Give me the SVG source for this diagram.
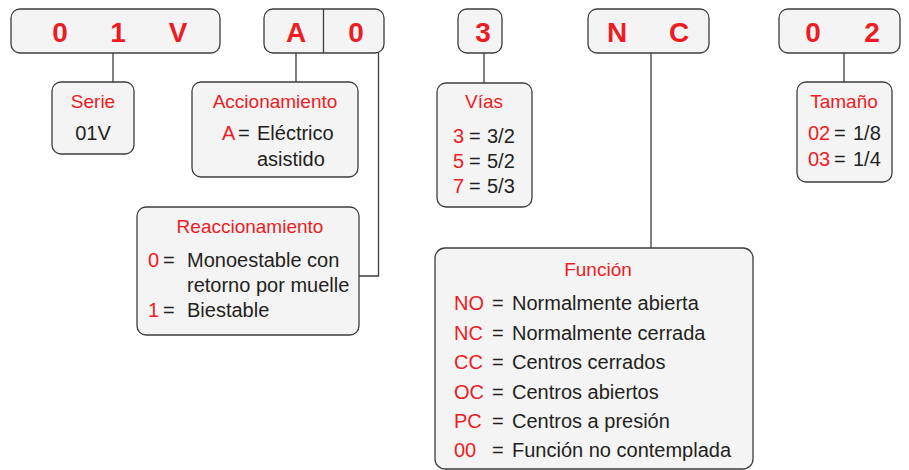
<svg xmlns="http://www.w3.org/2000/svg" width="909" height="470" viewBox="0 0 909 470">
<style>
.box{fill:#f4f4f4;stroke:#3d3d3d;stroke-width:1.3}
.ln{fill:none;stroke:#3d3d3d;stroke-width:1.3}
text{font-family:"Liberation Sans",Arial,sans-serif}
.big{font-size:28px;font-weight:bold;fill:#ed1c24;text-anchor:middle}
.t{font-size:19px;fill:#ed1c24;text-anchor:middle}
.r{font-size:20px;fill:#ed1c24}
.k{font-size:20px;fill:#231f20}
</style>
<rect width="909" height="470" fill="#ffffff"/>
<g id="connectors">
<path class="ln" d="M113 53V82"/>
<path class="ln" d="M296 53V82"/>
<path class="ln" d="M378.5 53V276H359"/>
<path class="ln" d="M484 53V83"/>
<path class="ln" d="M651 53V248"/>
<path class="ln" d="M844 53V82"/>
</g>
<g id="code-01V">
<rect class="box" x="11" y="9" width="209" height="44" rx="9"/>
<text class="big" x="60" y="42">0</text>
<text class="big" x="118" y="42">1</text>
<text class="big" x="178" y="42">V</text>
</g>
<g id="code-A0">
<rect class="box" x="264" y="9" width="120" height="44" rx="9"/>
<path class="ln" d="M323.5 9V53"/>
<text class="big" x="296" y="42">A</text>
<text class="big" x="356" y="42">0</text>
</g>
<g id="code-3">
<rect class="box" x="458" y="9" width="44" height="44" rx="9"/>
<text class="big" x="483" y="42">3</text>
</g>
<g id="code-NC">
<rect class="box" x="588" y="9" width="121" height="44" rx="9"/>
<text class="big" x="617" y="42">N</text>
<text class="big" x="679" y="42">C</text>
</g>
<g id="code-02">
<rect class="box" x="779" y="9" width="121" height="44" rx="9"/>
<text class="big" x="813" y="42">0</text>
<text class="big" x="872" y="42">2</text>
</g>
<g id="serie">
<rect class="box" x="52" y="82" width="82" height="72" rx="9"/>
<text class="t" x="93" y="108">Serie</text>
<text class="k" x="93" y="140" text-anchor="middle">01V</text>
</g>
<g id="accionamiento">
<rect class="box" x="192" y="82" width="166" height="95" rx="9"/>
<text class="t" x="275" y="108">Accionamiento</text>
<text class="r" x="222" y="140">A</text>
<text class="k" x="238" y="140">=</text>
<text class="k" x="257" y="140">Eléctrico</text>
<text class="k" x="257" y="166">asistido</text>
</g>
<g id="reaccionamiento">
<rect class="box" x="137" y="207" width="222" height="128" rx="9"/>
<text class="t" x="250" y="233">Reaccionamiento</text>
<text class="r" x="148" y="267">0</text>
<text class="k" x="163" y="267">=</text>
<text class="k" x="187" y="267">Monoestable con</text>
<text class="k" x="187" y="292">retorno por muelle</text>
<text class="r" x="148" y="317">1</text>
<text class="k" x="163" y="317">=</text>
<text class="k" x="187" y="317">Biestable</text>
</g>
<g id="vias">
<rect class="box" x="437" y="83" width="95" height="124" rx="9"/>
<text class="t" x="484" y="108">Vías</text>
<text class="r" x="453" y="143">3</text><text class="k" x="469" y="143">=</text><text class="k" x="487" y="143">3/2</text>
<text class="r" x="453" y="168">5</text><text class="k" x="469" y="168">=</text><text class="k" x="487" y="168">5/2</text>
<text class="r" x="453" y="193">7</text><text class="k" x="469" y="193">=</text><text class="k" x="487" y="193">5/3</text>
</g>
<g id="tamano">
<rect class="box" x="797" y="82" width="95" height="100" rx="9"/>
<text class="t" x="844" y="108">Tamaño</text>
<text class="r" x="808" y="140">02</text><text class="k" x="834" y="140">=</text><text class="k" x="853" y="140">1/8</text>
<text class="r" x="808" y="166">03</text><text class="k" x="834" y="166">=</text><text class="k" x="853" y="166">1/4</text>
</g>
<g id="funcion">
<rect class="box" x="435" y="248" width="318" height="221" rx="10"/>
<text class="t" x="598" y="276">Función</text>
<text class="r" x="454" y="310">NO</text><text class="k" x="492" y="310">=</text><text class="k" x="512" y="310">Normalmente abierta</text>
<text class="r" x="454" y="339.5">NC</text><text class="k" x="492" y="339.5">=</text><text class="k" x="512" y="339.5">Normalmente cerrada</text>
<text class="r" x="454" y="369">CC</text><text class="k" x="492" y="369">=</text><text class="k" x="512" y="369">Centros cerrados</text>
<text class="r" x="454" y="398.5">OC</text><text class="k" x="492" y="398.5">=</text><text class="k" x="512" y="398.5">Centros abiertos</text>
<text class="r" x="454" y="428">PC</text><text class="k" x="492" y="428">=</text><text class="k" x="512" y="428">Centros a presión</text>
<text class="r" x="454" y="457">00</text><text class="k" x="492" y="457">=</text><text class="k" x="512" y="457">Función no contemplada</text>
</g>
</svg>
